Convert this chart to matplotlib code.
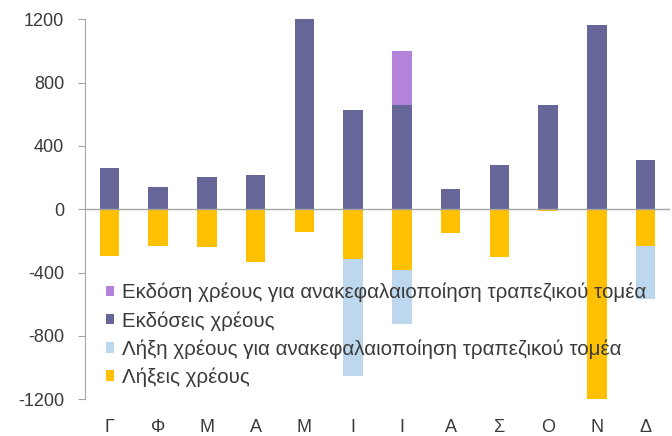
import matplotlib
matplotlib.use("Agg")
import matplotlib.pyplot as plt
import numpy as np

plt.rcParams["font.family"] = ["Liberation Sans", "DejaVu Sans"]
plt.rcParams["axes.unicode_minus"] = False

# ---- δεδομένα (εκατ. ευρώ, ανά μήνα) ----
mines = ["Γ", "Φ", "Μ", "Α", "Μ", "Ι", "Ι", "Α", "Σ", "Ο", "Ν", "Δ"]
ekdoseis = [263, 141, 206, 215, 1200, 627, 659, 126, 280, 659, 1162, 312]
ekdosi_trapezes = [0, 0, 0, 0, 0, 0, 339, 0, 0, 0, 0, 0]
lixeis = [-295, -229, -238, -335, -141, -314, -383, -149, -303, -13, -1208, -229]
lixi_trapezes = [0, 0, 0, 0, 0, -741, -341, 0, 0, 0, 0, -337]

C_EKD = "#666699"
C_EKD_TR = "#b383db"
C_LIX = "#ffc000"
C_LIX_TR = "#bdd7ee"
C_TXT = "#3a3a3a"
C_AX = "#a6a6a6"

fig = plt.figure(figsize=(6.72, 4.36), dpi=100)
ax = fig.add_axes([0.1265, 0.0842, 0.8705, 0.8715])

x = np.arange(len(mines))
w = 0.4
b1 = ax.bar(x, ekdoseis, w, color=C_EKD, label="Εκδόσεις χρέους")
b2 = ax.bar(x, ekdosi_trapezes, w, bottom=ekdoseis, color=C_EKD_TR,
            label="Εκδόση χρέους για ανακεφαλαιοποίηση τραπεζικού τομέα")
b3 = ax.bar(x, lixeis, w, color=C_LIX, label="Λήξεις χρέους")
b4 = ax.bar(x, lixi_trapezes, w, bottom=lixeis, color=C_LIX_TR,
            label="Λήξη χρέους για ανακεφαλαιοποίηση τραπεζικού τομέα")

ax.set_xlim(-0.5, len(mines) - 0.5)
ax.set_ylim(-1200, 1200)
ax.set_yticks([-1200, -800, -400, 0, 400, 800, 1200])

for s in ["top", "right", "bottom"]:
    ax.spines[s].set_visible(False)
ax.spines["left"].set_color(C_AX)
ax.axhline(0, color=C_AX, lw=1.0, zorder=3)

ax.set_xticks(x)
ax.set_xticklabels(mines)
ax.tick_params(axis="x", length=0, pad=14, labelsize=13, colors=C_TXT)
ax.tick_params(axis="y", length=5, pad=10, color=C_AX, labelsize=13,
               labelcolor=C_TXT)

leg = ax.legend([b2, b1, b4, b3],
                [b2.get_label(), b1.get_label(), b4.get_label(), b3.get_label()],
                loc="center left", bbox_to_anchor=(0.157, 0.232),
                bbox_transform=fig.transFigure, frameon=False, fontsize=14.8,
                handlelength=0.4, handleheight=0.4, handletextpad=0.42,
                labelspacing=0.42, borderpad=0, borderaxespad=0)
for t in leg.get_texts():
    t.set_color(C_TXT)

fig.savefig("out.png", dpi=100)
